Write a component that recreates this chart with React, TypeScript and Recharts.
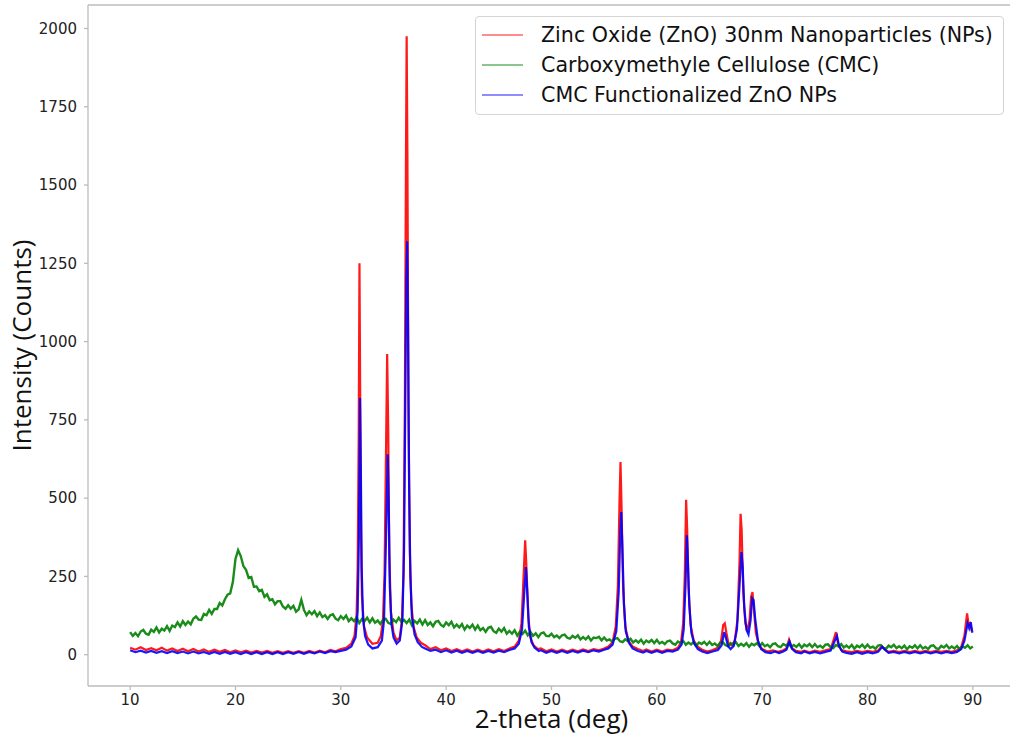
import { LineChart, Line, XAxis, YAxis, Legend, ReferenceLine } from "recharts";

// x ticks / y ticks
const thetaTicks = [10, 20, 30, 40, 50, 60, 70, 80, 90];
const countTicks = [0, 250, 500, 750, 1000, 1250, 1500, 1750, 2000];

const seriesNames = [
  "Zinc Oxide (ZnO) 30nm Nanoparticles (NPs)",
  "Carboxymethyle Cellulose (CMC)",
  "CMC Functionalized ZnO NPs",
];
const seriesColors = ["#ff0000", "#008000", "#0000ff"];

// Zinc Oxide (ZnO) 30nm NPs  [2-theta, counts]
const znoPattern: [number, number][] = [
  [10, 22], [10.5, 16], [11, 24], [11.5, 15], [12, 21], [12.5, 14], [13, 22], [13.5, 13], [14, 20], [14.5, 12],
  [15, 19], [15.5, 11], [16, 18], [16.5, 10], [17, 17], [17.5, 9], [18, 16], [18.5, 9], [19, 15], [19.5, 8],
  [20, 14], [20.5, 8], [21, 13], [21.5, 7], [22, 12], [22.5, 7], [23, 12], [23.5, 6], [24, 11], [24.5, 6],
  [25, 11], [25.5, 6], [26, 11], [26.5, 6], [27, 12], [27.5, 7], [28, 13], [28.5, 8], [29, 15], [29.5, 11],
  [30, 18], [30.5, 22], [31, 35], [31.3, 60], [31.5, 130], [31.6, 280], [31.7, 700], [31.77, 1250], [31.84, 820],
  [31.92, 380], [32, 190], [32.2, 90], [32.5, 55], [33, 35], [33.5, 38], [33.8, 60], [34, 110], [34.15, 260],
  [34.28, 620], [34.4, 960], [34.5, 720], [34.6, 320], [34.75, 140], [35, 70], [35.3, 45], [35.6, 55], [35.8, 110],
  [35.95, 260], [36.08, 800], [36.18, 1550], [36.25, 1975], [36.32, 1600], [36.42, 800], [36.55, 330], [36.7, 160],
  [36.9, 90], [37.2, 55], [37.6, 38], [38, 30], [38.5, 18], [39, 24], [39.5, 14], [40, 20], [40.5, 12], [41, 18],
  [41.5, 11], [42, 17], [42.5, 10], [43, 16], [43.5, 10], [44, 17], [44.5, 11], [45, 18], [45.5, 12], [46, 20],
  [46.5, 26], [46.9, 45], [47.15, 100], [47.35, 250], [47.5, 365], [47.62, 280], [47.8, 120], [48, 55], [48.3, 30],
  [48.7, 18], [49, 20], [49.5, 11], [50, 17], [50.5, 10], [51, 16], [51.5, 10], [52, 16], [52.5, 11], [53, 17],
  [53.5, 12], [54, 18], [54.5, 14], [55, 20], [55.4, 26], [55.8, 40], [56.1, 90], [56.3, 220], [56.45, 480],
  [56.55, 615], [56.65, 470], [56.8, 210], [57, 90], [57.3, 45], [57.7, 26], [58.2, 18], [58.7, 12], [59, 17],
  [59.5, 10], [60, 16], [60.5, 10], [61, 16], [61.5, 14], [62, 22], [62.3, 40], [62.5, 100], [62.65, 250],
  [62.78, 495], [62.88, 400], [63, 220], [63.2, 95], [63.5, 45], [63.9, 25], [64.3, 16], [64.8, 10], [65.3, 15],
  [65.8, 22], [66.1, 45], [66.3, 95], [66.45, 100], [66.6, 70], [66.8, 35], [67.1, 30], [67.4, 45], [67.65, 110],
  [67.85, 300], [67.95, 450], [68.05, 400], [68.2, 200], [68.4, 100], [68.6, 80], [68.8, 110], [68.95, 185],
  [69.08, 200], [69.2, 150], [69.4, 70], [69.7, 30], [70, 18], [70.5, 10], [71, 14], [71.5, 9], [72, 14], [72.3, 20],
  [72.55, 48], [72.8, 22], [73.2, 12], [73.7, 9], [74, 13], [74.5, 8], [75, 13], [75.5, 9], [76, 14], [76.5, 18],
  [76.85, 55], [77, 72], [77.2, 35], [77.5, 15], [78, 11], [78.5, 8], [79, 12], [79.5, 8], [80, 12], [80.5, 9],
  [81, 13], [81.35, 27], [81.6, 18], [82, 9], [82.5, 12], [83, 8], [83.5, 12], [84, 8], [84.5, 12], [85, 8],
  [85.5, 12], [86, 8], [86.5, 12], [87, 9], [87.5, 12], [88, 9], [88.5, 14], [88.9, 25], [89.2, 60], [89.45, 132],
  [89.6, 95], [89.75, 100], [89.9, 75],
];

// Carboxymethyle Cellulose (CMC), sampled every 0.25 deg from 10 deg
const cmcStart = 10;
const cmcStep = 0.25;
const cmcCounts = [
  72, 60, 69, 59, 74, 79, 67, 64, 80, 73, 87, 71, 83, 77, 91, 76, 93, 88, 103, 90,
  107, 95, 106, 97, 115, 122, 112, 111, 130, 126, 143, 130, 146, 146, 165, 157, 177, 192, 196, 232,
  306, 334, 315, 283, 271, 245, 248, 217, 218, 203, 207, 185, 193, 174, 177, 161, 171, 171, 154, 147,
  158, 147, 156, 137, 145, 175, 143, 126, 138, 129, 139, 123, 135, 120, 126, 114, 126, 129, 115, 110,
  123, 114, 125, 107, 116, 107, 119, 101, 114, 107, 118, 103, 116, 102, 109, 98, 111, 115, 102, 98,
  112, 104, 118, 105, 111, 101, 112, 94, 108, 100, 112, 96, 110, 95, 103, 91, 105, 108, 95, 90,
  103, 94, 105, 87, 96, 87, 98, 80, 93, 85, 96, 80, 93, 78, 85, 73, 86, 89, 75, 70,
  83, 74, 85, 67, 76, 67, 78, 61, 74, 66, 77, 62, 73, 60, 68, 56, 68, 71, 60, 59,
  67, 56, 61, 53, 62, 64, 54, 51, 60, 54, 62, 49, 56, 49, 58, 45, 55, 53, 57, 46,
  55, 45, 49, 42, 51, 53, 43, 40, 49, 44, 51, 39, 46, 39, 48, 35, 45, 40, 47, 37,
  47, 36, 41, 34, 43, 45, 36, 32, 42, 37, 44, 32, 39, 33, 41, 29, 39, 34, 41, 31,
  41, 31, 36, 28, 38, 40, 31, 27, 37, 32, 40, 28, 35, 28, 37, 25, 35, 30, 37, 27,
  37, 27, 32, 24, 34, 36, 27, 24, 34, 29, 36, 25, 31, 25, 34, 22, 32, 27, 34, 24,
  34, 24, 29, 22, 32, 33, 24, 21, 31, 26, 34, 23, 29, 22, 31, 19, 29, 24, 32, 22,
  32, 22, 26, 19, 29, 31, 22, 19, 29, 24, 32, 21, 27, 21, 29, 17, 27, 22, 30, 20,
  30, 20, 25, 18, 28, 30, 21, 18, 28, 23, 31, 20, 26, 20, 28, 17, 27, 22, 30, 20,
  26,
];

// CMC Functionalized ZnO NPs  [2-theta, counts]
const cmcZnoPattern: [number, number][] = [
  [10, 14], [10.5, 8], [11, 13], [11.5, 7], [12, 12], [12.5, 6], [13, 11], [13.5, 5], [14, 11], [14.5, 5],
  [15, 10], [15.5, 4], [16, 10], [16.5, 4], [17, 9], [17.5, 3], [18, 9], [18.5, 3], [19, 9], [19.5, 3],
  [20, 8], [20.5, 2], [21, 8], [21.5, 2], [22, 8], [22.5, 2], [23, 8], [23.5, 2], [24, 8], [24.5, 2],
  [25, 8], [25.5, 3], [26, 9], [26.5, 3], [27, 9], [27.5, 4], [28, 10], [28.5, 5], [29, 11], [29.5, 8],
  [30, 12], [30.5, 16], [31, 26], [31.4, 55], [31.6, 140], [31.72, 380], [31.82, 820], [31.9, 600], [31.98, 280],
  [32.1, 120], [32.3, 60], [32.6, 32], [33, 20], [33.5, 24], [33.9, 45], [34.1, 110], [34.3, 380], [34.45, 640],
  [34.55, 470], [34.65, 220], [34.8, 100], [35, 55], [35.3, 35], [35.6, 45], [35.85, 110], [36, 330], [36.12, 800],
  [36.22, 1200], [36.3, 1320], [36.38, 1050], [36.48, 550], [36.6, 250], [36.75, 120], [37, 65], [37.3, 40],
  [37.7, 25], [38, 20], [38.5, 12], [39, 16], [39.5, 8], [40, 14], [40.5, 7], [41, 13], [41.5, 6], [42, 12],
  [42.5, 6], [43, 12], [43.5, 6], [44, 12], [44.5, 7], [45, 13], [45.5, 8], [46, 15], [46.5, 20], [46.9, 35],
  [47.2, 80], [47.42, 200], [47.57, 280], [47.7, 200], [47.85, 90], [48.1, 40], [48.4, 22], [48.8, 12], [49, 14],
  [49.5, 6], [50, 12], [50.5, 6], [51, 12], [51.5, 6], [52, 12], [52.5, 7], [53, 13], [53.5, 8], [54, 14],
  [54.5, 10], [55, 16], [55.4, 20], [55.8, 32], [56.15, 75], [56.38, 200], [56.52, 380], [56.62, 456], [56.72, 350],
  [56.88, 160], [57.05, 75], [57.35, 38], [57.7, 20], [58.2, 12], [58.7, 7], [59, 12], [59.5, 6], [60, 12],
  [60.5, 6], [61, 12], [61.5, 10], [62, 16], [62.35, 32], [62.55, 80], [62.72, 220], [62.85, 381], [62.95, 300],
  [63.08, 160], [63.28, 70], [63.55, 35], [63.9, 18], [64.3, 10], [64.8, 5], [65.3, 10], [65.8, 15], [66.15, 30],
  [66.4, 72], [66.55, 55], [66.75, 28], [67, 18], [67.3, 28], [67.6, 80], [67.85, 220], [68.03, 328], [68.15, 280],
  [68.3, 150], [68.5, 80], [68.7, 65], [68.9, 110], [69.05, 180], [69.18, 175], [69.35, 110], [69.6, 45],
  [69.9, 18], [70.3, 8], [70.8, 5], [71.2, 10], [71.6, 5], [72, 10], [72.3, 16], [72.6, 42], [72.85, 18], [73.2, 8],
  [73.7, 4], [74, 10], [74.5, 4], [75, 9], [75.5, 4], [76, 9], [76.5, 13], [76.9, 45], [77.1, 60], [77.3, 28],
  [77.6, 10], [78, 6], [78.5, 3], [79, 8], [79.5, 3], [80, 8], [80.5, 4], [81, 9], [81.4, 25], [81.7, 14], [82, 6],
  [82.5, 9], [83, 4], [83.5, 9], [84, 4], [84.5, 9], [85, 4], [85.5, 9], [86, 4], [86.5, 9], [87, 4], [87.5, 9],
  [88, 5], [88.5, 9], [88.9, 18], [89.2, 45], [89.5, 100], [89.65, 85], [89.8, 104], [89.95, 70],
];

const toRows = (pairs: [number, number][]) => pairs.map(([theta, counts]) => ({ theta, counts }));
const znoData = toRows(znoPattern);
const cmcData = cmcCounts.map((counts, i) => ({ theta: cmcStart + i * cmcStep, counts }));
const cmcZnoData = toRows(cmcZnoPattern);

const frame = "#bcbcbc";
const tickFont = { fill: "#222", fontSize: 15, fontFamily: "DejaVu Sans" };
const titleFont = { fill: "#111", fontSize: 26, fontFamily: "Open Sans" };

function LegendBox() {
  return (
    <div
      style={{
        width: 529,
        height: 99,
        boxSizing: "border-box",
        border: "1px solid #d4d4d4",
        borderRadius: 4,
        background: "rgba(255,255,255,0.85)",
        paddingTop: 3,
        fontFamily: "DejaVu Sans",
        fontSize: 20.6,
        color: "#111",
      }}
    >
      {seriesNames.map((name, i) => (
        <div key={name} style={{ display: "flex", alignItems: "center", height: 30 }}>
          <svg width={47} height={6} style={{ display: "block" }}>
            <line x1={6} x2={47} y1={3} y2={3} stroke={seriesColors[i]} strokeOpacity={0.6} strokeWidth={1.5} />
          </svg>
          <span style={{ marginLeft: 18, whiteSpace: "nowrap" }}>{name}</span>
        </div>
      ))}
    </div>
  );
}

export default function App() {
  return (
    <div style={{ position: "absolute", left: 0, top: 0, width: 1010, height: 735, overflow: "hidden", background: "#fff" }}>
      <LineChart width={1030} height={735} margin={{ top: 5, right: 15, bottom: 0, left: 0 }}>
        <XAxis
          dataKey="theta"
          type="number"
          domain={[6, 94]}
          ticks={thetaTicks}
          allowDataOverflow
          height={49}
          stroke={frame}
          strokeWidth={1.3}
          tickSize={4}
          tickMargin={4}
          tick={tickFont}
          label={{ value: "2-theta (deg)", position: "insideBottom", offset: 7, style: titleFont }}
        />
        <YAxis
          type="number"
          domain={[-100, 2075]}
          ticks={countTicks}
          allowDataOverflow
          width={88}
          stroke={frame}
          strokeWidth={1.3}
          tickSize={4}
          tickMargin={7}
          tick={tickFont}
          label={{
            value: "Intensity (Counts)",
            angle: -90,
            position: "insideLeft",
            offset: 22,
            style: { ...titleFont, textAnchor: "middle" },
          }}
        />
        <ReferenceLine y={2075} stroke={frame} strokeWidth={1.3} />
        <Legend
          layout="vertical"
          align="center"
          verticalAlign="middle"
          wrapperStyle={{ position: "absolute", left: 475, top: 16, width: 529, height: 99 }}
          content={<LegendBox />}
        />
        <Line
          data={znoData}
          dataKey="counts"
          name={seriesNames[0]}
          stroke={seriesColors[0]}
          strokeOpacity={0.9}
          strokeWidth={2.2}
          dot={false}
          activeDot={false}
          isAnimationActive={false}
        />
        <Line
          data={cmcData}
          dataKey="counts"
          name={seriesNames[1]}
          stroke={seriesColors[1]}
          strokeOpacity={0.9}
          strokeWidth={2.4}
          dot={false}
          activeDot={false}
          isAnimationActive={false}
        />
        <Line
          data={cmcZnoData}
          dataKey="counts"
          name={seriesNames[2]}
          stroke={seriesColors[2]}
          strokeOpacity={0.9}
          strokeWidth={2.2}
          dot={false}
          activeDot={false}
          isAnimationActive={false}
        />
      </LineChart>
    </div>
  );
}
